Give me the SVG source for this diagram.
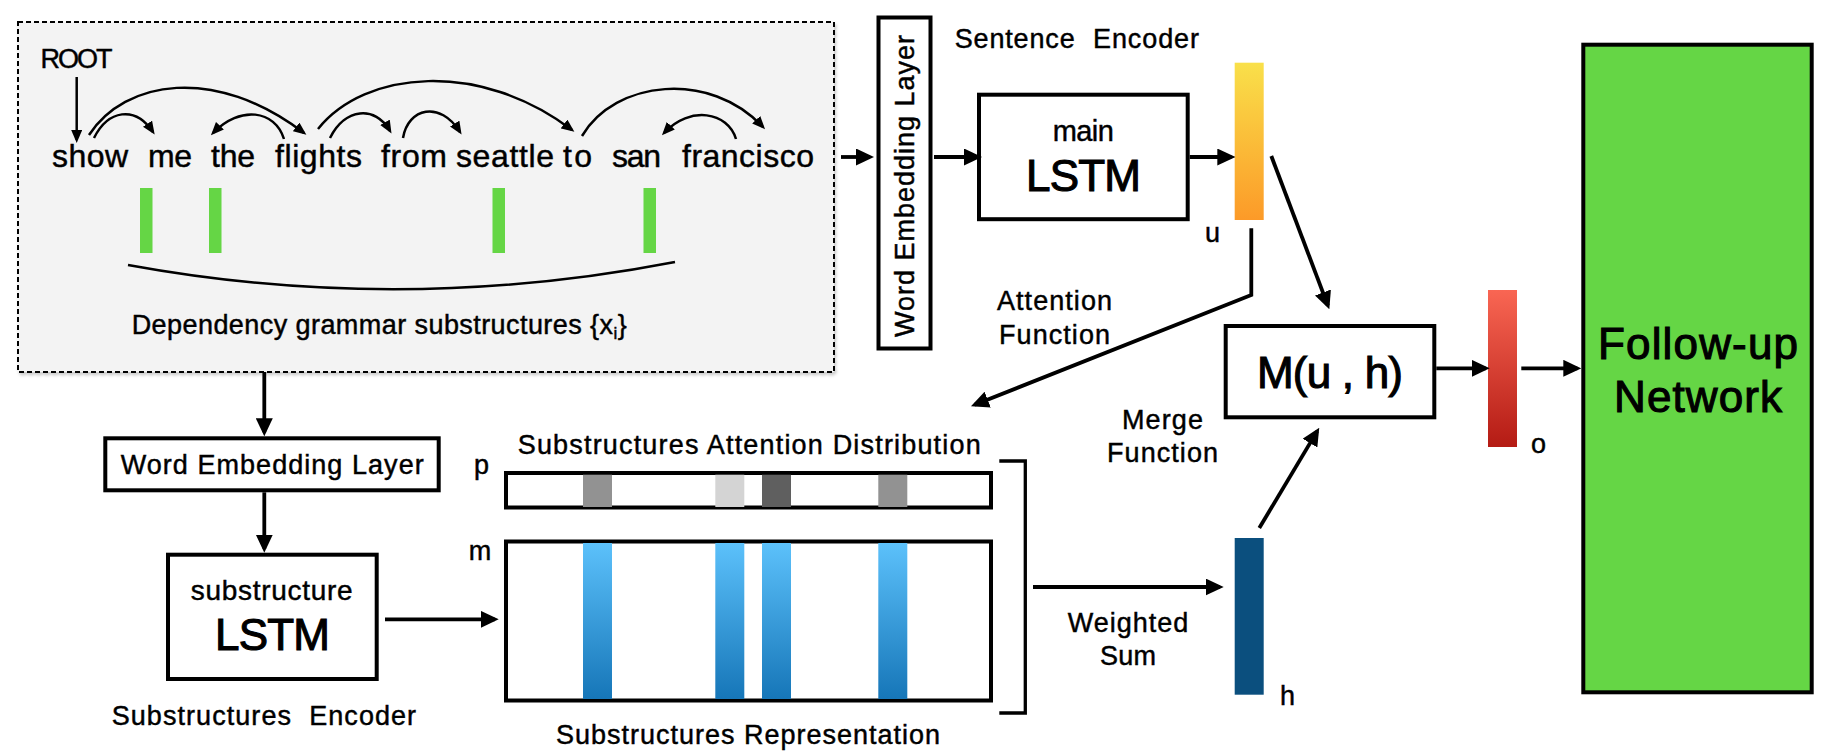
<svg xmlns="http://www.w3.org/2000/svg" width="1824" height="754" viewBox="0 0 1824 754">
<defs>
<style>
text{font-family:"Liberation Sans",Arial,Helvetica,sans-serif;fill:#000;stroke:#000;stroke-width:0.45;}
.lbl{font-size:27px;}
.word{font-size:32px;}
.big{font-size:44px;stroke-width:1.1;}
.box{fill:#fff;stroke:#000;stroke-width:4;}
.con{fill:none;stroke:#000;stroke-width:3.8;}
.arc{fill:none;stroke:#000;stroke-width:2.5;}
.green{fill:#65d645;}
</style>
<marker id="ah" viewBox="0 0 18 17" markerUnits="userSpaceOnUse" markerWidth="18" markerHeight="17" refX="14" refY="8.5" orient="auto">
<path d="M0,0 L18,8.5 L0,17 z" fill="#000"/>
</marker>
<marker id="ahs" viewBox="0 0 13 11" markerUnits="userSpaceOnUse" markerWidth="13" markerHeight="11" refX="10" refY="5.5" orient="auto">
<path d="M0,0 L13,5.5 L0,11 z" fill="#000"/>
</marker>
<linearGradient id="gu" x1="0" y1="0" x2="0" y2="1">
<stop offset="0" stop-color="#f9e04a"/><stop offset="1" stop-color="#fc9a28"/>
</linearGradient>
<linearGradient id="go" x1="0" y1="0" x2="0" y2="1">
<stop offset="0" stop-color="#f96653"/><stop offset="1" stop-color="#b41b14"/>
</linearGradient>
<linearGradient id="gb" x1="0" y1="0" x2="0" y2="1">
<stop offset="0" stop-color="#5cc1fb"/><stop offset="1" stop-color="#1676b8"/>
</linearGradient>
<filter id="sh" x="-5%" y="-5%" width="110%" height="110%">
<feDropShadow dx="1.5" dy="2.5" stdDeviation="1.5" flood-color="#000" flood-opacity="0.2"/>
</filter>
</defs>
<rect width="1824" height="754" fill="#fff"/>

<g id="dependency-box">
<rect x="18" y="22" width="816" height="350" fill="#f3f3f3" stroke="#000" stroke-width="2" stroke-dasharray="5 3" filter="url(#sh)"/>
<text class="lbl" x="40.5" y="68" font-size="26" textLength="72">ROOT</text>
<g class="word">
<text x="52" y="167" textLength="76">show</text>
<text x="148" y="167" textLength="44">me</text>
<text x="211" y="167" textLength="44">the</text>
<text x="275" y="167" textLength="87">flights</text>
<text x="381" y="167" textLength="66">from</text>
<text x="456" y="167" textLength="98">seattle</text>
<text x="563" y="167" textLength="29">to</text>
<text x="612" y="167" textLength="49">san</text>
<text x="682" y="167" textLength="132">francisco</text>
</g>
<path class="arc" d="M76.7,77 L76.7,140" marker-end="url(#ahs)"/>
<path class="arc" d="M89,135 C125,80 215,65 304,133" marker-end="url(#ahs)"/>
<path class="arc" d="M94,138 C108,110 135,105 153,132" marker-end="url(#ahs)"/>
<path class="arc" d="M284,139 C275,110 240,105 213,133" marker-end="url(#ahs)"/>
<path class="arc" d="M318,129 C365,70 480,60 572,130" marker-end="url(#ahs)"/>
<path class="arc" d="M330,138 C345,108 375,105 390,131" marker-end="url(#ahs)"/>
<path class="arc" d="M403,138 C408,108 440,100 460,132" marker-end="url(#ahs)"/>
<path class="arc" d="M582,136 C615,80 710,70 763,127" marker-end="url(#ahs)"/>
<path class="arc" d="M736,139 C728,112 690,105 664,133" marker-end="url(#ahs)"/>
<rect class="green" x="140" y="188" width="12.5" height="65"/>
<rect class="green" x="209" y="188" width="12.5" height="65"/>
<rect class="green" x="492.5" y="188" width="12.5" height="65"/>
<rect class="green" x="643.5" y="188" width="12.5" height="65"/>
<path class="arc" d="M128,265 Q401,315 675,262"/>
<text class="lbl" x="131.7" y="334" textLength="495">Dependency grammar substructures {x<tspan font-size="17" dy="5">i</tspan><tspan dy="-5">}</tspan></text>
</g>

<g id="word-embedding-vertical">
<rect class="box" x="878.5" y="17.5" width="52" height="331" stroke-width="5"/>
<text class="lbl" transform="translate(914,186) rotate(-90)" text-anchor="middle" textLength="302">Word Embedding Layer</text>
</g>

<g id="sentence-encoder-label">
<text class="lbl" x="954.7" y="48.3" textLength="120">Sentence</text>
<text class="lbl" x="1093" y="48.3" textLength="106">Encoder</text>
</g>

<g id="main-lstm">
<rect class="box" x="979" y="94.7" width="208.7" height="124.5"/>
<text x="1083.3" y="140.7" font-size="29" text-anchor="middle" textLength="61">main</text>
<text class="big" x="1083.5" y="190.7" text-anchor="middle" textLength="115">LSTM</text>
</g>

<g id="u-vector">
<rect x="1234.7" y="62.7" width="29" height="157.3" fill="url(#gu)"/>
<text class="lbl" x="1205" y="242">u</text>
</g>

<g id="attention-label">
<text class="lbl" x="1054.5" y="310" text-anchor="middle" textLength="115">Attention</text>
<text class="lbl" x="1054.5" y="344" text-anchor="middle" textLength="111">Function</text>
</g>

<g id="merge-box">
<rect class="box" x="1225.7" y="326" width="208.6" height="91.3"/>
<text class="big" x="1330" y="388" font-size="42" text-anchor="middle" textLength="146">M(u , h)</text>
</g>

<g id="merge-label">
<text class="lbl" x="1162.5" y="428.7" text-anchor="middle" textLength="81">Merge</text>
<text class="lbl" x="1162.5" y="462" text-anchor="middle" textLength="111">Function</text>
</g>

<g id="o-vector">
<rect x="1488" y="290" width="29" height="157" fill="url(#go)"/>
<text class="lbl" x="1531" y="453">o</text>
</g>

<g id="follow-up-network">
<rect x="1583.3" y="44.7" width="228.4" height="647.6" fill="#65d645" stroke="#000" stroke-width="4"/>
<text class="big" x="1698" y="359" font-size="44" text-anchor="middle" textLength="200">Follow-up</text>
<text class="big" x="1698" y="412" font-size="45" text-anchor="middle" textLength="168">Network</text>
</g>

<g id="word-embedding-horizontal">
<rect class="box" x="105.3" y="438.3" width="333.4" height="52"/>
<text class="lbl" x="120.7" y="474.3" textLength="303">Word Embedding Layer</text>
</g>

<g id="substructure-lstm">
<rect class="box" x="168" y="554.7" width="208.7" height="124.3"/>
<text x="271.7" y="599.7" font-size="28" text-anchor="middle" textLength="162">substructure</text>
<text class="big" x="272.5" y="650.3" text-anchor="middle" textLength="115">LSTM</text>
</g>

<g id="substructures-encoder-label">
<text class="lbl" x="111.7" y="724.7" textLength="179.3">Substructures</text>
<text class="lbl" x="309.3" y="724.7" textLength="106.7">Encoder</text>
</g>

<g id="attention-distribution">
<text class="lbl" x="517.7" y="453.7" textLength="463">Substructures Attention Distribution</text>
<text class="lbl" x="474" y="474">p</text>
<rect class="box" x="506" y="473" width="485" height="34.5" stroke-width="3.5"/>
<rect x="583" y="474.7" width="29" height="32.3" fill="#929292"/>
<rect x="715.3" y="474.7" width="29" height="32.3" fill="#d4d4d4"/>
<rect x="762" y="474.7" width="29" height="32.3" fill="#5f5f5f"/>
<rect x="878.3" y="474.7" width="29" height="32.3" fill="#929292"/>
</g>

<g id="substructures-representation">
<text class="lbl" x="468.7" y="559.7">m</text>
<rect class="box" x="506" y="541.5" width="485" height="159" stroke-width="3.5"/>
<rect x="583" y="543" width="29" height="156" fill="url(#gb)"/>
<rect x="715.3" y="543" width="29" height="156" fill="url(#gb)"/>
<rect x="762" y="543" width="29" height="156" fill="url(#gb)"/>
<rect x="878.3" y="543" width="29" height="156" fill="url(#gb)"/>
<text class="lbl" x="556" y="743.7" textLength="384">Substructures Representation</text>
</g>

<g id="bracket">
<path d="M999.3,461 L1025.3,461 L1025.3,713 L999.3,713" fill="none" stroke="#000" stroke-width="3.3"/>
</g>

<g id="weighted-sum-label">
<text class="lbl" x="1128" y="632" text-anchor="middle" textLength="120.7">Weighted</text>
<text class="lbl" x="1128" y="665.3" text-anchor="middle" textLength="56">Sum</text>
</g>

<g id="h-vector">
<rect x="1234.7" y="538" width="29" height="156.7" fill="#0b4f7e"/>
<text class="lbl" x="1280" y="705.3">h</text>
</g>

<g id="connectors">
<path class="con" d="M841,157 L870,157" marker-end="url(#ah)"/>
<path class="con" d="M934,157 L978,157" marker-end="url(#ah)"/>
<path class="con" d="M1189.7,157 L1231.3,157" marker-end="url(#ah)"/>
<path class="con" d="M1271.3,156 L1327.9,305.6" marker-end="url(#ah)"/>
<path class="con" d="M1251.3,228.3 L1251.3,295 L974.7,404.8" marker-end="url(#ah)"/>
<path class="con" d="M1436.3,368.3 L1485.7,368.3" marker-end="url(#ah)"/>
<path class="con" d="M1521.3,368.3 L1577.3,368.3" marker-end="url(#ah)"/>
<path class="con" d="M1259.3,528 L1317.2,431.1" marker-end="url(#ah)"/>
<path class="con" d="M1033,587 L1219.7,587" marker-end="url(#ah)"/>
<path class="con" d="M385,619.3 L494.7,619.3" marker-end="url(#ah)"/>
<path class="con" d="M264.3,372 L264.3,432.3" marker-end="url(#ah)"/>
<path class="con" d="M264.3,492.3 L264.3,548.7" marker-end="url(#ah)"/>
</g>
</svg>
